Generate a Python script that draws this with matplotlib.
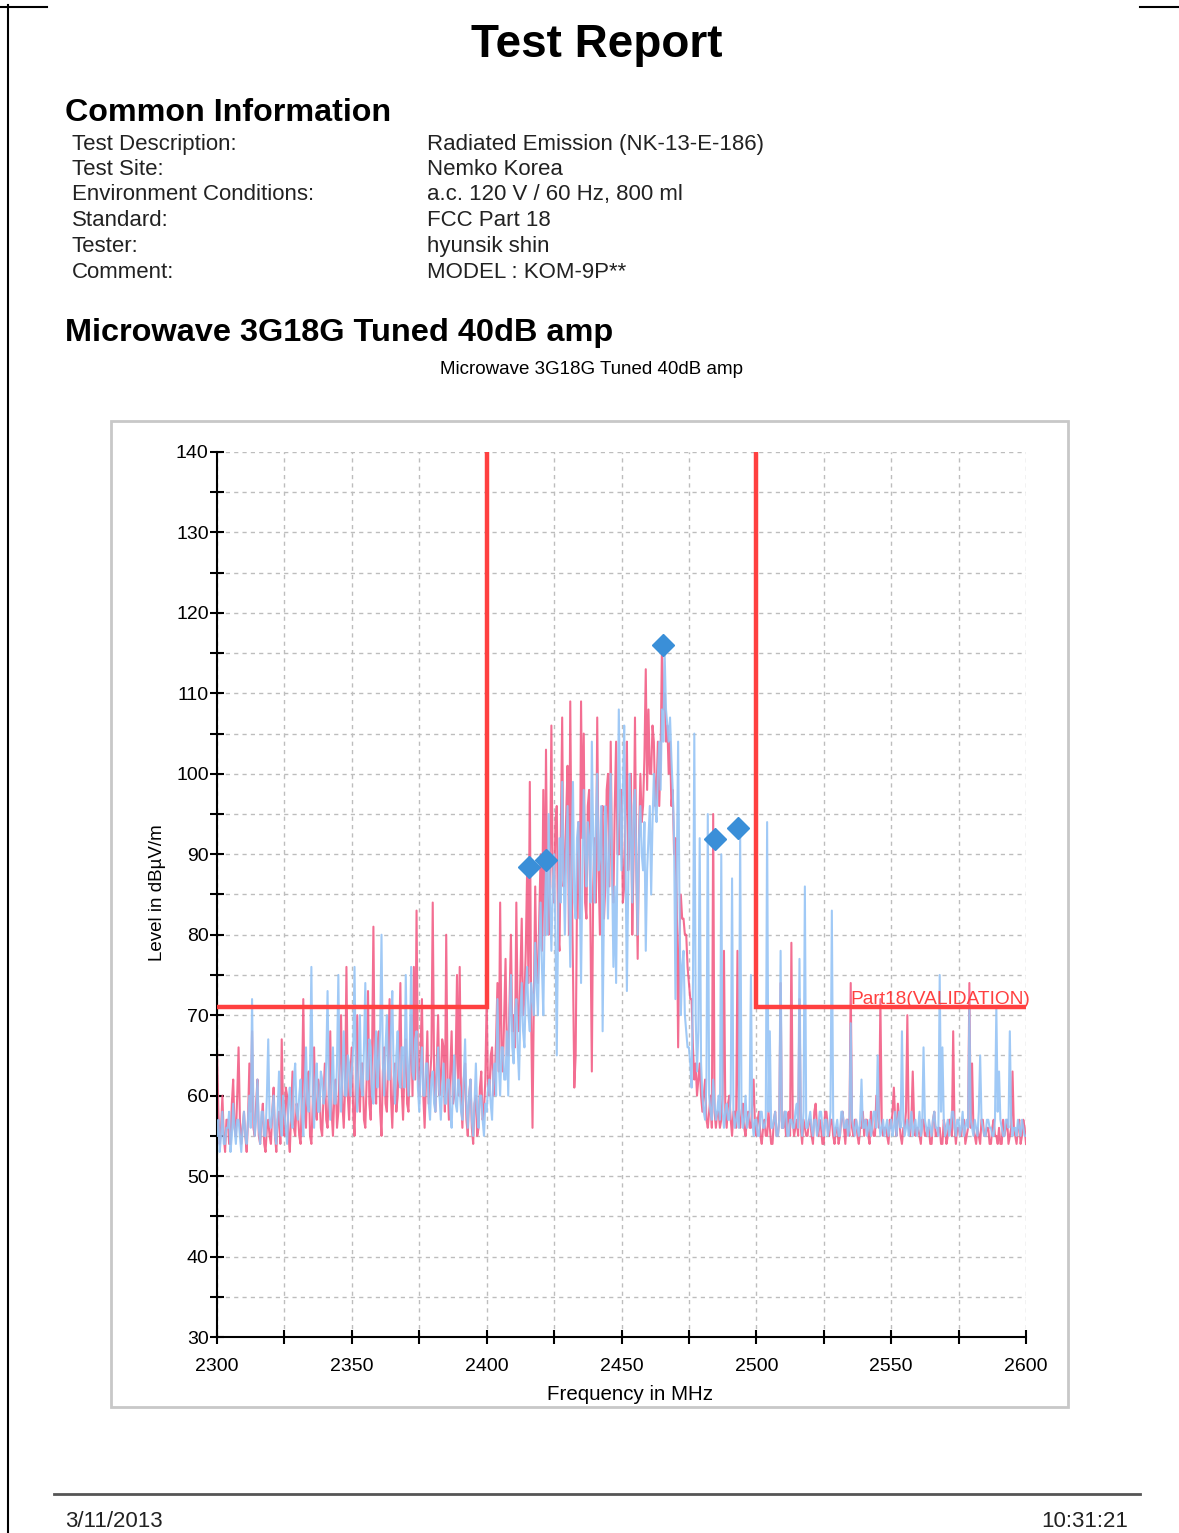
import numpy as np
import matplotlib
matplotlib.use("Agg")
from matplotlib import pyplot as plt
from matplotlib.lines import Line2D
from matplotlib.patches import Rectangle

plt.rcParams['font.family'] = ['Liberation Sans', 'DejaVu Sans']

freq = np.arange(2300, 2600.5, 0.5)  # MHz, 0.5 MHz sweep step

pink_level = [
    66, 58, 54, 56, 60, 55, 53, 57, 57, 54,   54, 59, 62, 56, 55, 60, 66, 57, 54, 56,
    58, 55, 53, 57, 64, 58, 68, 56, 55, 59,   62, 55, 54, 57, 59, 54, 53, 56, 57, 55,
    54, 58, 61, 55, 53, 57, 58, 54, 67, 58,   55, 61, 60, 55, 53, 58, 63, 56, 55, 59,
    58, 55, 54, 60, 72, 58, 56, 62, 63, 55,   54, 59, 66, 58, 57, 62, 61, 56, 55, 60,
    64, 57, 56, 61, 68, 58, 55, 60, 62, 56,   58, 64, 70, 59, 56, 61, 76, 60, 57, 63,
    66, 58, 55, 62, 70, 60, 58, 64, 64, 57,   56, 62, 73, 59, 57, 65, 81, 62, 59, 66,
    68, 58, 55, 63, 66, 59, 58, 65, 72, 60,   56, 62, 64, 58, 60, 66, 74, 61, 57, 63,
    67, 59, 58, 64, 70, 60, 76, 62, 83, 63,   60, 66, 72, 60, 56, 62, 68, 59, 62, 65,
    84, 63, 58, 64, 70, 60, 62, 67, 66, 58,   80, 62, 57, 63, 68, 59, 60, 64, 75, 60,
    76, 60, 56, 62, 64, 57, 55, 60, 62, 56,   54, 59, 60, 55, 56, 61, 63, 57, 58, 62,
    72, 61, 60, 65, 66, 60, 62, 67, 74, 63,   84, 66, 63, 70, 77, 65, 65, 72, 80, 68,
    70, 66, 84, 70, 68, 75, 82, 70, 72, 78,   88, 74, 99, 70, 56, 72, 86, 75, 74, 82,
    90, 78, 98, 80, 103, 84, 80, 88, 106, 86,   84, 94, 96, 80, 78, 92, 107, 86, 88, 95,
    101, 80, 109, 88, 76, 61, 65, 84, 94, 82,   109, 92, 105, 84, 82, 96, 98, 80, 63, 86,
    92, 84, 107, 88, 80, 94, 96, 82, 86, 98,   100, 86, 104, 88, 84, 96, 104, 90, 90, 98,
    98, 84, 86, 96, 104, 88, 92, 100, 80, 90,   107, 88, 77, 92, 100, 94, 96, 102, 113, 98,
    108, 100, 100, 106, 104, 96, 98, 104, 96, 102,   116, 108, 110, 104, 106, 100, 104, 96, 98, 90,
    92, 84, 66, 80, 85, 82, 82, 80, 80, 76,   74, 72, 72, 66, 62, 64, 60, 62, 64, 60,
    58, 60, 62, 57, 56, 58, 60, 56, 95, 58,   56, 58, 58, 56, 57, 60, 78, 58, 56, 59,
    60, 57, 55, 58, 58, 56, 78, 57, 56, 58,   59, 56, 55, 57, 58, 56, 56, 59, 62, 56,
    55, 57, 58, 55, 54, 56, 57, 55, 55, 58,   56, 54, 54, 57, 58, 55, 55, 57, 74, 56,
    56, 58, 55, 57, 58, 55, 79, 57, 55, 56,   57, 55, 72, 56, 54, 57, 56, 55, 55, 57,
    57, 55, 54, 58, 59, 56, 55, 57, 56, 54,   54, 58, 58, 56, 55, 57, 57, 55, 54, 56,
    56, 54, 55, 57, 58, 56, 54, 57, 57, 55,   74, 56, 55, 57, 57, 55, 54, 56, 56, 58,
    55, 57, 57, 55, 54, 58, 56, 55, 55, 60,   58, 56, 72, 57, 55, 56, 56, 55, 54, 57,
    56, 58, 61, 57, 55, 59, 57, 55, 54, 56,   56, 58, 70, 56, 55, 57, 63, 57, 55, 56,
    56, 55, 54, 57, 57, 55, 55, 56, 56, 54,   54, 57, 58, 55, 55, 56, 56, 54, 54, 57,
    56, 54, 55, 57, 57, 55, 68, 56, 54, 56,   56, 55, 55, 57, 57, 54, 55, 56, 74, 56,
    64, 56, 55, 54, 56, 55, 54, 57, 57, 55,   55, 56, 56, 54, 54, 56, 57, 55, 55, 54,
    56, 54, 54, 57, 55, 56, 57, 54, 55, 56,   63, 56, 55, 54, 56, 57, 54, 55, 57, 56,
    54,
]

blue_level = [
    55, 57, 53, 55, 58, 54, 54, 56, 56, 58,   53, 55, 59, 56, 54, 57, 57, 55, 53, 56,
    58, 55, 54, 57, 60, 56, 72, 58, 55, 57,   62, 56, 54, 58, 58, 55, 55, 60, 67, 57,
    56, 58, 60, 55, 54, 58, 63, 57, 55, 60,   58, 56, 54, 59, 61, 57, 56, 62, 64, 58,
    57, 60, 62, 58, 55, 61, 66, 59, 58, 63,   76, 60, 56, 62, 64, 58, 58, 63, 62, 59,
    60, 64, 73, 60, 57, 62, 66, 59, 59, 64,   75, 61, 58, 63, 68, 60, 60, 65, 64, 60,
    63, 66, 76, 62, 58, 64, 70, 61, 60, 66,   74, 62, 62, 67, 66, 60, 59, 64, 68, 61,
    64, 68, 80, 64, 60, 66, 70, 62, 62, 68,   73, 63, 59, 65, 68, 62, 61, 66, 66, 61,
    75, 64, 60, 66, 76, 63, 62, 67, 68, 61,   58, 63, 66, 60, 60, 64, 64, 59, 57, 62,
    63, 59, 58, 63, 66, 60, 57, 61, 64, 59,   59, 62, 62, 58, 56, 61, 65, 59, 58, 62,
    61, 58, 57, 62, 67, 59, 56, 60, 62, 57,   55, 59, 64, 58, 56, 60, 60, 57, 55, 59,
    58, 61, 62, 59, 57, 63, 64, 60, 72, 64,   60, 66, 66, 62, 62, 68, 60, 70, 75, 66,
    64, 70, 72, 66, 62, 70, 74, 68, 66, 73,   76, 70, 68, 74, 72, 70, 79, 74, 70, 78,
    84, 76, 70, 82, 88, 80, 95, 84, 78, 86,   90, 80, 65, 82, 92, 84, 99, 88, 80, 90,
    96, 86, 76, 90, 99, 84, 82, 92, 94, 86,   74, 88, 98, 90, 86, 94, 92, 84, 104, 92,
    84, 94, 100, 88, 90, 96, 68, 84, 96, 90,   82, 92, 100, 88, 76, 86, 74, 90, 108, 96,
    88, 98, 106, 90, 73, 86, 100, 92, 84, 96,   98, 88, 80, 92, 96, 90, 88, 94, 78, 88,
    92, 96, 85, 94, 100, 96, 94, 100, 104, 98,   108, 104, 115, 108, 106, 104, 107, 102, 98, 92,
    72, 88, 104, 84, 70, 76, 78, 70, 68, 66,   66, 64, 61, 74, 105, 70, 63, 68, 92, 64,
    60, 58, 57, 62, 95, 60, 58, 57, 62, 59,   57, 58, 60, 57, 90, 58, 56, 58, 59, 57,
    57, 60, 87, 58, 56, 57, 58, 56, 93, 58,   56, 57, 60, 56, 57, 58, 75, 57, 55, 57,
    57, 55, 55, 58, 58, 56, 56, 57, 94, 58,   68, 56, 56, 57, 58, 55, 55, 57, 78, 56,
    56, 58, 58, 55, 55, 57, 57, 56, 56, 58,   59, 56, 77, 57, 55, 58, 86, 56, 56, 57,
    58, 56, 55, 57, 57, 55, 56, 58, 58, 56,   55, 57, 57, 55, 56, 58, 83, 57, 55, 56,
    57, 55, 55, 58, 58, 56, 56, 57, 55, 56,   69, 57, 56, 55, 57, 56, 55, 57, 62, 56,
    56, 57, 55, 56, 57, 55, 56, 58, 58, 56,   65, 57, 55, 56, 57, 55, 56, 57, 55, 56,
    57, 55, 56, 58, 55, 57, 58, 56, 68, 57,   55, 56, 57, 55, 56, 58, 55, 56, 57, 55,
    56, 58, 55, 56, 66, 57, 56, 55, 57, 56,   55, 57, 58, 56, 56, 55, 75, 58, 66, 57,
    55, 56, 57, 55, 56, 58, 58, 56, 55, 57,   57, 55, 56, 58, 55, 56, 57, 56, 71, 57,
    56, 55, 57, 56, 55, 58, 65, 57, 56, 55,   55, 57, 57, 56, 56, 55, 55, 57, 71, 58,
    63, 57, 56, 55, 55, 57, 57, 56, 68, 57,   55, 56, 56, 55, 57, 56, 55, 57, 56, 55,
    55,
]

peak_freq = [2415.7, 2422.0, 2465.4, 2484.7, 2493.2]
peak_level = [88.4, 89.3, 116.0, 91.9, 93.3]

limit_low_freq = [2300, 2400, 2400]
limit_low_level = [71, 71, 140]
limit_high_freq = [2500, 2500, 2600]
limit_high_level = [140, 71, 71]
limit_name = "Part18(VALIDATION)"

info_labels = ["Test Description:", "Test Site:", "Environment Conditions:",
               "Standard:", "Tester:", "Comment:"]
info_values = ["Radiated Emission (NK-13-E-186)", "Nemko Korea",
               "a.c. 120 V / 60 Hz, 800 ml", "FCC Part 18",
               "hyunsik shin", "MODEL : KOM-9P**"]

W, H = 1179, 1533
fig = plt.figure(figsize=(W / 100, H / 100), dpi=100)


def fx(px):
    return px / W


def fy(py):
    return 1 - py / H


# page header / frame
fig.add_artist(Line2D([fx(8), fx(8)], [fy(5), fy(1533)], color="black", lw=1.5))
fig.add_artist(Line2D([fx(0), fx(47)], [fy(7), fy(7)], color="black", lw=1.5))
fig.add_artist(Line2D([fx(1140), fx(1179)], [fy(7), fy(7)], color="black", lw=1.5))

fig.text(fx(597), fy(57), "Test Report", fontsize=33, fontweight="bold",
         ha="center", va="baseline")
fig.text(fx(65), fy(121), "Common Information", fontsize=23.2, fontweight="bold",
         ha="left", va="baseline")
row_base = [150, 175, 200, 226, 252, 278]
for lab, val, yb in zip(info_labels, info_values, row_base):
    fig.text(fx(72), fy(yb), lab, fontsize=16, color="#222222", va="baseline")
    fig.text(fx(427), fy(yb), val, fontsize=16, color="#222222", va="baseline")

fig.text(fx(65), fy(341), "Microwave 3G18G Tuned 40dB amp", fontsize=23.4,
         fontweight="bold", va="baseline")
fig.text(fx(591), fy(374), "Microwave 3G18G Tuned 40dB amp", fontsize=13.5,
         ha="center", va="baseline")

# chart panel frame
fig.add_artist(Rectangle((fx(111), fy(1407)), fx(1068) - fx(111), fy(421) - fy(1407),
                         transform=fig.transFigure, fill=False,
                         edgecolor="#C8C8C8", lw=2))

ax = fig.add_axes([fx(217), fy(1337), fx(1026) - fx(217), fy(452) - fy(1337)])

ax.plot(freq, pink_level, color="#F2557F", lw=1.5, alpha=0.85, zorder=2)
ax.plot(freq, blue_level, color="#96C4F5", lw=1.5, alpha=0.9, zorder=3)

ax.plot(limit_low_freq, limit_low_level, color="#FF4040", lw=3.2, zorder=4,
        solid_joinstyle="miter")
ax.plot(limit_high_freq, limit_high_level, color="#FF4040", lw=3.2, zorder=4,
        solid_joinstyle="miter")
ax.text(2535, 70.9, limit_name, color="#FF4040", fontsize=13.8, va="bottom",
        ha="left", zorder=5)

ax.plot(peak_freq, peak_level, ls="none", marker="D", ms=11, color="#3A8FD8",
        mec="#3A8FD8", zorder=6)

ax.set_xlim(2300, 2600)
ax.set_ylim(30, 140)
ax.set_xticks(np.arange(2300, 2601, 50))
ax.set_xticks(np.arange(2325, 2600, 50), minor=True)
ax.set_yticks(np.arange(30, 141, 10))
ax.set_yticks(np.arange(35, 140, 10), minor=True)
ax.tick_params(which="both", direction="inout", length=10, width=1.5,
               labelsize=14, colors="black")
ax.tick_params(axis="y", pad=1)
ax.tick_params(axis="x", pad=10)
ax.grid(True, which="both", color="#BDBDBD", ls=(0, (3, 3)), lw=1)
ax.set_axisbelow(True)
for s in ["top", "right"]:
    ax.spines[s].set_visible(False)
for s in ["left", "bottom"]:
    ax.spines[s].set_linewidth(1.5)

fig.text(fx(630), fy(1400), "Frequency in MHz", fontsize=14.8, ha="center",
         va="baseline")
fig.text(fx(157), fy(893), "Level in dBµV/m", fontsize=13.5, rotation=90,
         ha="center", va="center")

# footer
fig.add_artist(Line2D([fx(54), fx(1140)], [fy(1494), fy(1494)], color="#555555", lw=2))
fig.text(fx(65), fy(1527), "3/11/2013", fontsize=16, color="#222222", va="baseline")
fig.text(fx(1128), fy(1527), "10:31:21", fontsize=16, color="#222222",
         ha="right", va="baseline")

fig.savefig("out.png", dpi=100)
